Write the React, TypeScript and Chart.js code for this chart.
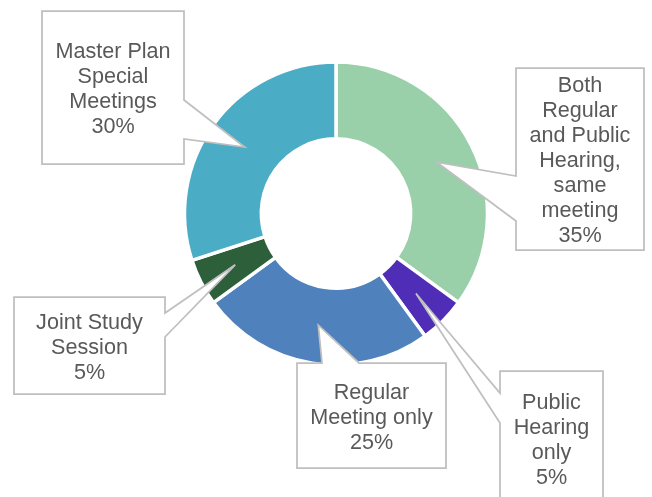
import React, { useEffect, useRef } from "react";
import { Chart, registerables } from "chart.js";

Chart.register(...registerables);

const categories: string[] = [
  "Both Regular and Public Hearing, same meeting",
  "Public Hearing only",
  "Regular Meeting only",
  "Joint Study Session",
  "Master Plan Special Meetings",
];
const categoryLines: string[][] = [
  ["Both", "Regular", "and Public", "Hearing,", "same", "meeting"],
  ["Public", "Hearing", "only"],
  ["Regular", "Meeting only"],
  ["Joint Study", "Session"],
  ["Master Plan", "Special", "Meetings"],
];
const values: number[] = [35, 5, 25, 5, 30];
const colors: string[] = ["#99CFA9", "#4F2DB7", "#4F81BD", "#2C5F3A", "#4BACC6"];

type Callout = {
  x: number;
  y: number;
  w: number;
  h: number;
  side: "left" | "right" | "top";
  b1: number;
  b2: number;
};

// layout of callout boxes (per slice index)
const callouts: Callout[] = [
  { x: 516, y: 68, w: 128, h: 182, side: "left", b1: 176, b2: 221 },
  { x: 500, y: 371, w: 103, h: 134, side: "left", b1: 393, b2: 423 },
  { x: 297, y: 363, w: 149, h: 105, side: "top", b1: 322, b2: 359 },
  { x: 14, y: 297, w: 151, h: 97, side: "right", b1: 313, b2: 337 },
  { x: 42, y: 11, w: 142, h: 153, side: "right", b1: 100, b2: 139 },
];

const calloutPlugin = {
  id: "callouts",
  afterDatasetsDraw(chart: any) {
    const ctx: CanvasRenderingContext2D = chart.ctx;
    const meta = chart.getDatasetMeta(0);
    const fontSize = 21.6;
    const lineH = 25;
    ctx.save();
    callouts.forEach((c, i) => {
      const arc = meta.data[i];
      if (!arc) return;
      const tip = arc.getCenterPoint();
      const L = c.x, T = c.y, R = c.x + c.w, B = c.y + c.h;
      ctx.beginPath();
      ctx.moveTo(L, T);
      if (c.side === "top") {
        ctx.lineTo(c.b1, T);
        ctx.lineTo(tip.x, tip.y);
        ctx.lineTo(c.b2, T);
      }
      ctx.lineTo(R, T);
      if (c.side === "right") {
        ctx.lineTo(R, c.b1);
        ctx.lineTo(tip.x, tip.y);
        ctx.lineTo(R, c.b2);
      }
      ctx.lineTo(R, B);
      ctx.lineTo(L, B);
      if (c.side === "left") {
        ctx.lineTo(L, c.b2);
        ctx.lineTo(tip.x, tip.y);
        ctx.lineTo(L, c.b1);
      }
      ctx.closePath();
      ctx.fillStyle = "#FFFFFF";
      ctx.fill();
      ctx.lineWidth = 1.75;
      ctx.strokeStyle = "#BFBFBF";
      ctx.lineJoin = "miter";
      ctx.stroke();

      const lines = [...categoryLines[i], values[i] + "%"];
      ctx.fillStyle = "#595959";
      ctx.font = `${fontSize}px "Liberation Sans", Arial, sans-serif`;
      ctx.textAlign = "center";
      ctx.textBaseline = "alphabetic";
      const cx = (L + R) / 2;
      const cy = (T + B) / 2;
      const n = lines.length;
      lines.forEach((t, j) => {
        const y = cy + (j - (n - 1) / 2) * lineH + 8;
        ctx.fillText(t, cx, y);
      });
    });
    ctx.restore();
  },
};

export default function App() {
  const ref = useRef<HTMLCanvasElement | null>(null);
  useEffect(() => {
    if (!ref.current) return;
    const chart = new Chart(ref.current, {
      type: "doughnut",
      data: {
        labels: categories,
        datasets: [
          {
            data: values,
            backgroundColor: colors,
            borderColor: "#FFFFFF",
            borderWidth: 3.5,
          },
        ],
      },
      options: {
        responsive: false,
        animation: false,
        events: [],
        radius: 151.5,
        cutout: "49.3%",
        layout: { padding: { left: 20, right: 0, top: 0, bottom: 70 } },
        plugins: {
          legend: { display: false },
          tooltip: { enabled: false },
        },
      } as any,
      plugins: [calloutPlugin],
    });
    return () => chart.destroy();
  }, []);
  return (
    <div
      style={{
        position: "fixed",
        left: 0,
        top: 0,
        width: 652,
        height: 497,
        background: "#FFFFFF",
        overflow: "hidden",
      }}
    >
      <canvas ref={ref} width={652} height={497} style={{ display: "block" }} />
    </div>
  );
}
